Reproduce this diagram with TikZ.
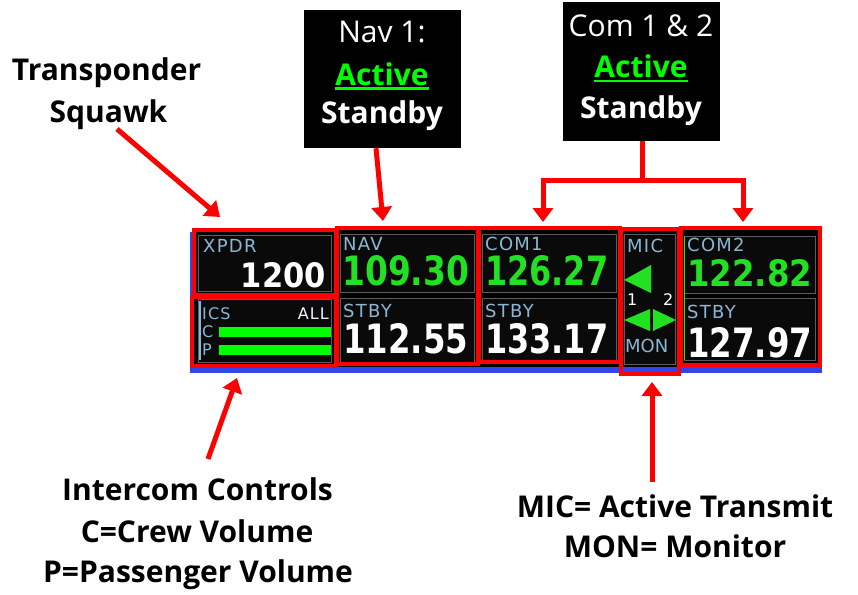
\documentclass[tikz,border=0pt]{standalone}
\usepackage{fontspec}
\setmainfont{Open Sans}
\newfontfamily\dv{DejaVu Sans}
\newfontfamily\dvl[LetterSpace=7]{DejaVu Sans}
\usetikzlibrary{arrows.meta,calc}
\definecolor{lblue}{HTML}{8CB6D4}
\definecolor{dgreen}{HTML}{22E022}
\definecolor{agreen}{HTML}{00FF00}
\definecolor{panel}{HTML}{0A0A0A}
\definecolor{bdr}{HTML}{5C5C5C}
\definecolor{blu}{HTML}{3344EE}
\definecolor{rd}{HTML}{FF0000}
\tikzset{
  ann/.style={font=\bfseries\fontsize{30}{30}\selectfont, text=black, inner sep=0pt, anchor=base},
  annw/.style={ann, text=white},
  annreg/.style={font=\fontsize{30}{30}\selectfont, text=white, inner sep=0pt, anchor=base},
  lbl/.style={font=\dvl\fontsize{18}{18}\selectfont, text=lblue, inner sep=0pt, anchor=base west},
  slbl/.style={lbl, font=\dv\fontsize{16}{16}\selectfont},
  numtxt/.style={inner sep=0pt, anchor=base west},
  cell/.style={fill=panel, draw=bdr, line width=1pt},
  rbox/.style={draw=rd, line width=4.5pt, inner sep=0pt},
  blackbox/.style={fill=black, draw=none, inner sep=0pt},
  arr/.style={draw=rd, line width=5pt, -{Triangle[width=20pt,length=14pt]}},
  redline/.style={draw=rd, line width=5pt},
  tri/.style={fill=dgreen, draw=none},
}
\newcommand{\dnum}[3]{\resizebox{#1pt}{#2pt}{\dv\bfseries #3}}
\begin{document}
\begin{tikzpicture}[x=1pt,y=-1pt]
\useasboundingbox (0,0) rectangle (858,594);
\fill[white] (0,0) rectangle (858,594);

% panel
\fill[blu] (190,232) rectangle (822,373);
\fill[black] (194,230) rectangle (820,367);

% cells
\draw[cell] (198,235) rectangle (331,291);
\draw[cell] (198,299) rectangle (331,362);
\draw[cell] (340,234) rectangle (474,292);
\draw[cell] (340,298) rectangle (474,362);
\draw[cell] (482,234) rectangle (616,292);
\draw[cell] (482,298) rectangle (616,362);
\draw[cell] (624,234) rectangle (675,364);
\draw[cell] (684,236) rectangle (815,293);
\draw[cell] (684,298) rectangle (815,360);
\draw[dgreen, line width=1pt] (684,236) -- (684,360);
\draw[lblue, line width=1.2pt] (200,301) -- (200,360);

% XPDR
\node[lbl] (xpdrlbl) at (203,252) {XPDR};
\node[numtxt, anchor=base east, text=white] (xpdrnum) at (326,287) {\dnum{85}{25}{1200}};
% ICS
\node[slbl, font=\dvl\fontsize{16}{16}\selectfont] (icslblt) at (202,319) {ICS};
\node[slbl, font=\dvl\fontsize{16}{16}\selectfont, anchor=base east, text=white!88!lblue] (icsall) at (329,319) {ALL};
\node[slbl] (icsc) at (202,337) {C};
\node[slbl] (icsp) at (202,355) {P};
\fill[agreen] (219,327) rectangle (331,337);
\fill[agreen] (219,345) rectangle (331,355);
% NAV
\node[lbl] (navlblt) at (343,250) {NAV};
\node[numtxt, text=dgreen] (navact) at (342,285) {\dnum{127}{30}{109.30}};
\node[lbl] (navstbyl) at (343,317) {STBY};
\node[numtxt, text=white] (navstby) at (343,353) {\dnum{125}{30}{112.55}};
% COM1
\node[lbl] (com1lbl) at (485,250) {COM1};
\node[numtxt, text=dgreen] (com1act) at (485,285) {\dnum{123}{30}{126.27}};
\node[lbl] (com1stbyl) at (485,317) {STBY};
\node[numtxt, text=white] (com1stby) at (485,353) {\dnum{123}{30}{133.17}};
% MIC
\node[lbl] (miclblt) at (627,252) {MIC};
\fill[tri] (624,280) -- (651,265) -- (651,293) -- cycle;
\node[slbl, text=white] (mic1) at (627,305) {1};
\node[slbl, text=white] (mic2) at (663,305) {2};
\fill[tri] (624,320) -- (650,309) -- (650,331) -- cycle;
\fill[tri] (653,309) -- (676,320) -- (653,331) -- cycle;
\node[lbl, font=\dv\fontsize{18}{18}\selectfont] (monlbl) at (625,352) {MON};
% COM2
\node[lbl] (com2lbl) at (687,251) {COM2};
\node[numtxt, text=dgreen] (com2act) at (687,286) {\dnum{125}{27}{122.82}};
\node[lbl] (com2stbyl) at (687,318) {STBY};
\node[numtxt, text=white] (com2stby) at (687,357) {\dnum{125}{30}{127.97}};

% red highlight boxes
\node[rbox, minimum width=142pt, minimum height=65pt] (xpdr) at (265,262.5) {};
\node[rbox, minimum width=144pt, minimum height=69pt] (ics) at (264,331.5) {};
\node[rbox, minimum width=141pt, minimum height=136pt] (nav) at (407.5,296) {};
\node[rbox, minimum width=141pt, minimum height=134pt] (com1) at (549.5,295) {};
\node[rbox, minimum width=58pt, minimum height=145pt] (mic) at (650,301.5) {};
\node[rbox, minimum width=139pt, minimum height=137pt] (com2) at (750.5,296.5) {};

% annotation: transponder
\node[ann] (tsq1) at (106.5,80) {Transponder};
\node[ann] (tsq2) at (108.5,122) {Squawk};
\coordinate (tsqA) at (117,129);
\coordinate (tsqB) at (220,217);
\draw[arr] (tsqA) -- (tsqB);

% annotation: nav
\node[blackbox, minimum width=157pt, minimum height=138pt] (navbox) at (382.5,79) {};
\node[annreg] (nav1) at (382,43) {Nav 1:};
\node[annw, text=agreen] (navact2) at (382,85) {Active};
\node[annw] (navstb2) at (382,123) {Standby};
\draw[agreen, line width=2.5pt] ($(navact2.base west)+(0,3.5)$) -- ($(navact2.base east)+(0,3.5)$);
\coordinate (navtip) at (383,221);
\draw[arr] (navbox.south -| 376,0) -- (navtip);

% annotation: com
\node[blackbox, minimum width=157pt, minimum height=139pt] (combox) at (641.5,71.5) {};
\node[annreg] (com12) at (641,37) {Com 1 \& 2};
\node[annw, text=agreen] (comact2) at (641,77) {Active};
\node[annw] (comstb2) at (641,118) {Standby};
\draw[agreen, line width=2.5pt] ($(comact2.base west)+(0,4)$) -- ($(comact2.base east)+(0,4)$);
\coordinate (comj) at (642,180);
\coordinate (comtipA) at (543,222);
\coordinate (comtipB) at (743,222);
\draw[redline] (combox.south -| comj) -- (comj);
\draw[arr] ([xshift=2.5pt]comj) -| (comtipA);
\draw[arr] ([xshift=-2.5pt]comj) -| (comtipB);

% annotation: intercom
\node[ann] (ic1) at (197.5,500) {Intercom Controls};
\node[ann] (ic2) at (197,542) {C=Crew Volume};
\node[ann] (ic3) at (198,582) {P=Passenger Volume};
\coordinate (icA) at (208,459);
\coordinate (icB) at (237,378);
\draw[arr] (icA) -- (icB);

% annotation: mic
\node[ann] (mc1) at (675,517) {MIC= Active Transmit};
\node[ann] (mc2) at (675,557) {MON= Monitor};
\coordinate (mcA) at (652,482);
\coordinate (mcB) at (652,382);
\draw[arr] (mcA) -- (mcB);
\end{tikzpicture}
\end{document}
